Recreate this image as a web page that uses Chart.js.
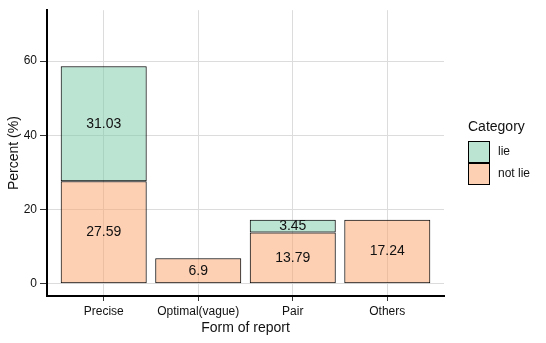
<!DOCTYPE html>
<html>
<head>
<meta charset="utf-8">
<script src="https://cdn.jsdelivr.net/npm/chart.js@4/dist/chart.umd.min.js"></script>
<style>
  html, body { margin: 0; padding: 0; background: #fff; }
  #wrap { width: 546px; height: 343px; }
</style>
</head>
<body>
<div id="wrap"><canvas id="report-chart" width="546" height="343"></canvas></div>
<script>
const categories = ['Precise', 'Optimal(vague)', 'Pair', 'Others'];
const notLieValues = [27.59, 6.9, 13.79, 17.24];
const lieValues = [31.03, null, 3.45, null];
const yTicks = [0, 20, 40, 60];
const seriesNames = ['lie', 'not lie'];

const lieColor = 'rgba(119, 201, 167, 0.5)';
const notLieColor = 'rgba(251, 161, 105, 0.5)';
const fontFamily = '"Liberation Sans", Arial, sans-serif';

let ctx = document.getElementById('report-chart').getContext('2d');

function toPoints(values) {
    return values.map((v, i) => ({ x: i + 1, y: v }));
}

// value labels centred in each stacked segment
const barLabels = {
    id: 'barLabels',
    afterDatasetsDraw(chart) {
        const c = chart.ctx;
        c.save();
        c.font = '14px ' + fontFamily;
        c.fillStyle = '#111';
        c.textAlign = 'center';
        c.textBaseline = 'middle';
        chart.data.datasets.forEach((ds, di) => {
            const meta = chart.getDatasetMeta(di);
            meta.data.forEach((bar, i) => {
                const v = ds.data[i].y;
                if (v === null) return;
                c.fillText(String(v), bar.x, (bar.y + bar.base) / 2);
            });
        });
        c.restore();
    }
};

// ggplot style legend on the right
const sideLegend = {
    id: 'sideLegend',
    afterDraw(chart) {
        const c = chart.ctx;
        const left = chart.chartArea.right + 24;
        c.save();
        c.fillStyle = '#111';
        c.textBaseline = 'middle';
        c.textAlign = 'left';
        c.font = '14px ' + fontFamily;
        c.fillText('Category', left, 127);
        const colors = [lieColor, notLieColor];
        seriesNames.forEach((name, i) => {
            const top = 141 + i * 22;
            c.fillStyle = '#fff';
            c.fillRect(left, top, 22, 22);
            c.fillStyle = colors[i];
            c.fillRect(left, top, 22, 22);
            c.strokeStyle = '#000';
            c.lineWidth = 1;
            c.strokeRect(left + 0.5, top + 0.5, 21, 21);
            c.fillStyle = '#111';
            c.font = '12px ' + fontFamily;
            c.fillText(name, left + 30, top + 11);
        });
        c.restore();
    }
};

new Chart(ctx, {
    type: 'bar',
    data: {
        datasets: [{
            label: 'not lie',
            data: toPoints(notLieValues),
            backgroundColor: notLieColor,
            borderColor: '#000',
            borderWidth: 1,
            borderSkipped: false
        }, {
            label: 'lie',
            data: toPoints(lieValues),
            backgroundColor: lieColor,
            borderColor: '#000',
            borderWidth: 1,
            borderSkipped: false
        }]
    },
    options: {
        responsive: false,
        animation: false,
        layout: { padding: { left: 0, right: 102, top: 7, bottom: 0 } },
        datasets: { bar: { barPercentage: 0.91, categoryPercentage: 1 } },
        plugins: {
            legend: { display: false },
            tooltip: { enabled: false }
        },
        scales: {
            x: {
                type: 'linear',
                stacked: true,
                offset: false,
                min: 0.4,
                max: 4.6,
                afterBuildTicks: s => { s.ticks = categories.map((_, i) => ({ value: i + 1 })); },
                afterFit: s => { s.height = 47; },
                ticks: {
                    callback: (v) => categories[v - 1],
                    color: '#111',
                    font: { family: fontFamily, size: 12 },
                    padding: 3,
                    maxRotation: 0,
                    autoSkip: false
                },
                grid: { offset: false, color: '#dcdcdc', tickColor: '#333', tickLength: 5, lineWidth: 1 },
                border: { color: '#000', width: 2 },
                title: {
                    display: true,
                    text: 'Form of report',
                    color: '#111',
                    font: { family: fontFamily, size: 14 },
                    padding: { top: 0, bottom: 6 }
                }
            },
            y: {
                stacked: true,
                min: -3.3,
                max: 73.7,
                afterBuildTicks: s => { s.ticks = yTicks.map(v => ({ value: v })); },
                afterFit: s => { s.width = 47; },
                ticks: {
                    color: '#111',
                    font: { family: fontFamily, size: 12 },
                    padding: 3
                },
                grid: { color: '#dcdcdc', tickColor: '#333', tickLength: 7, lineWidth: 1 },
                border: { color: '#000', width: 2 },
                title: {
                    display: true,
                    text: 'Percent (%)',
                    color: '#111',
                    font: { family: fontFamily, size: 14 },
                    padding: { top: 6, bottom: 0 }
                }
            }
        }
    },
    plugins: [barLabels, sideLegend]
});
</script>
</body>
</html>
